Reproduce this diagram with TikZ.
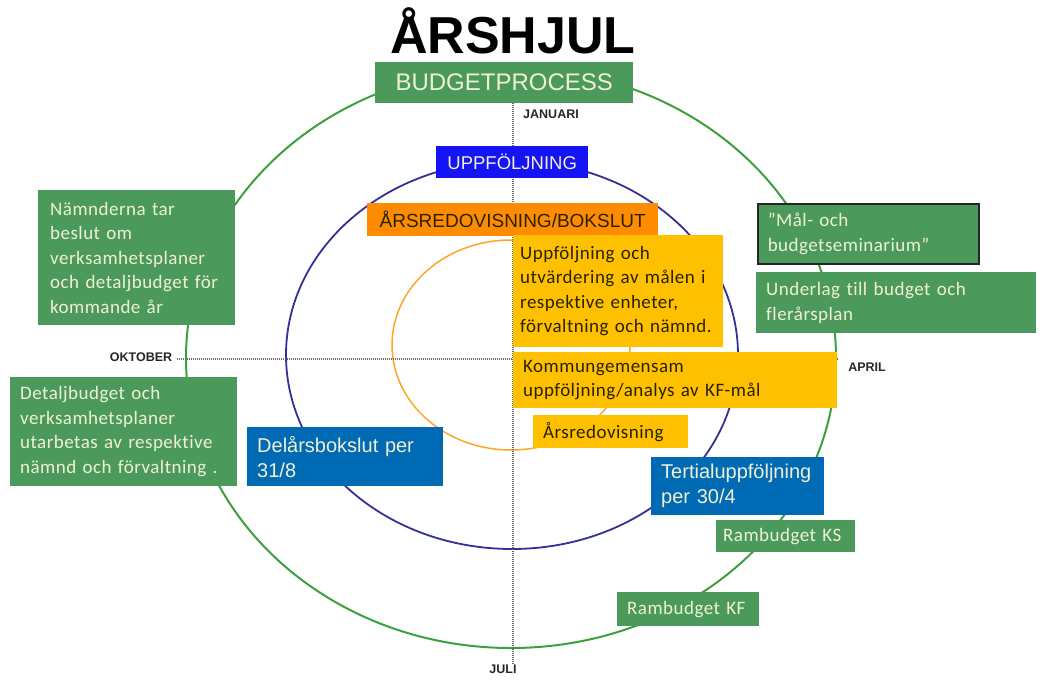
\documentclass[tikz,border=0pt]{standalone}
\usepackage{fontspec}
\setmainfont{Liberation Sans}
\newfontfamily\calfont[LetterSpace=2.5, Ligatures=NoCommon]{Carlito}
\usetikzlibrary{positioning}

\definecolor{boxgreen}{RGB}{75,154,92}
\definecolor{ringgreen}{RGB}{60,160,60}
\definecolor{ringblue}{RGB}{50,50,150}
\definecolor{ringorange}{RGB}{255,165,40}
\definecolor{uppblue}{RGB}{20,20,245}
\definecolor{arsorange}{RGB}{255,140,0}
\definecolor{boxyellow}{RGB}{255,192,0}
\definecolor{boxblue}{RGB}{0,106,180}
\definecolor{creamtext}{RGB}{240,240,215}
\definecolor{darktext}{RGB}{40,35,0}

\newcommand{\boxfont}{\calfont\fontsize{19}{24.5}\selectfont}
\newcommand{\arialbox}{\fontsize{20}{25}\selectfont}

\tikzset{
  textbox/.style={anchor=north west, inner xsep=10pt, inner ysep=0pt, align=left},
  greenbox/.style={textbox, fill=boxgreen, text=creamtext, font=\boxfont},
  yellowbox/.style={textbox, fill=boxyellow, text=darktext, font=\boxfont},
  bluebox/.style={textbox, fill=boxblue, text=creamtext, font=\arialbox},
  monthlabel/.style={font=\bfseries\fontsize{12.5}{12.5}\selectfont, text=black!85, inner sep=1pt},
  monthline/.style={line width=1.3pt, black!60, dash pattern=on 1pt off 1pt},
}

\begin{document}
\begin{tikzpicture}[x=1pt, y=-1pt]
\useasboundingbox (0,0) rectangle (1040,680);

% rings
\draw[ringgreen, line width=2pt] (511,358) ellipse [x radius=325, y radius=290];
\draw[ringblue, line width=1.8pt] (512,355) ellipse [x radius=226, y radius=194];
\draw[ringorange, line width=1.5pt] (511,345) ellipse [x radius=119, y radius=105];

% months
\node[monthlabel] (januari) at (551,114) {JANUARI};
\node[monthlabel] (oktober) at (141,357) {OKTOBER};
\node[monthlabel] (april) at (867,367) {APRIL};
\node[monthlabel] (juli) at (503,669) {JULI};

\coordinate (top) at (513,103);
\coordinate (bottom) at (513,664);
\coordinate (right) at (838,359);

\draw[monthline] (top) -- (bottom);
\draw[monthline] (oktober.east) ++(4,2) -- (right);

% title
\node[font=\bfseries\fontsize{52}{52}\selectfont, anchor=base] (title) at (513,53) {ÅRSHJUL};
\node[anchor=north west, fill=boxgreen, text=creamtext, minimum width=258, minimum height=41,
      inner sep=0pt, font=\fontsize{24}{24}\selectfont] (budget) at (375,62) {BUDGETPROCESS};

% inner headings
\node[anchor=north west, fill=uppblue, text=creamtext, minimum width=152, minimum height=32,
      inner sep=0pt, font=\fontsize{18.5}{18.5}\selectfont] (uppf) at (436,146) {UPPFÖLJNING};
\node[anchor=north west, fill=arsorange, text=darktext, minimum width=291, minimum height=33,
      inner sep=0pt, font=\fontsize{19}{19}\selectfont] (arsred) at (367,203) {ÅRSREDOVISNING/BOKSLUT};

% yellow
\node[yellowbox, inner xsep=7pt, text width=196, minimum height=112] (utvard) at (513,235)
  {Uppföljning och\\utvärdering av målen i\\respektive enheter,\\förvaltning och nämnd.};
\node[yellowbox, text width=304, minimum height=56] (kfmal) at (513,352)
  {Kommungemensam\\uppföljning/analys av KF-mål};
\node[yellowbox, text width=135, minimum height=33] (arsredov) at (533,415) {Årsredovisning};

% green left
\node[greenbox, inner xsep=12pt, text width=173, minimum height=135] (namnd) at (38,190)
  {Nämnderna tar\\beslut om\\verksamhetsplaner\\och detaljbudget för\\kommande år};
\node[greenbox, text width=207, minimum height=109] (detalj) at (10,377)
  {Detaljbudget och\\verksamhetsplaner\\utarbetas av respektive\\nämnd och förvaltning .};

% green right
\node[greenbox, draw=black!85, line width=1.5pt, text width=201, minimum height=60] (seminar) at (757,203)
  {”Mål- och\\budgetseminarium”};
\node[greenbox, text width=260, minimum height=61] (underlag) at (756,272)
  {Underlag till budget och\\flerårsplan};
\node[greenbox, inner xsep=7pt, text width=125, minimum height=32] (ramks) at (716,520) {Rambudget KS};
\node[greenbox, text width=122, minimum height=34] (ramkf) at (617,592) {Rambudget KF};

% blue
\node[bluebox, text width=176, minimum height=59] (delars) at (247,427)
  {Delårsbokslut per\\31/8};
\node[bluebox, text width=153, minimum height=58] (tertial) at (651,457)
  {Tertialuppföljning\\per 30/4};
\end{tikzpicture}
\end{document}
